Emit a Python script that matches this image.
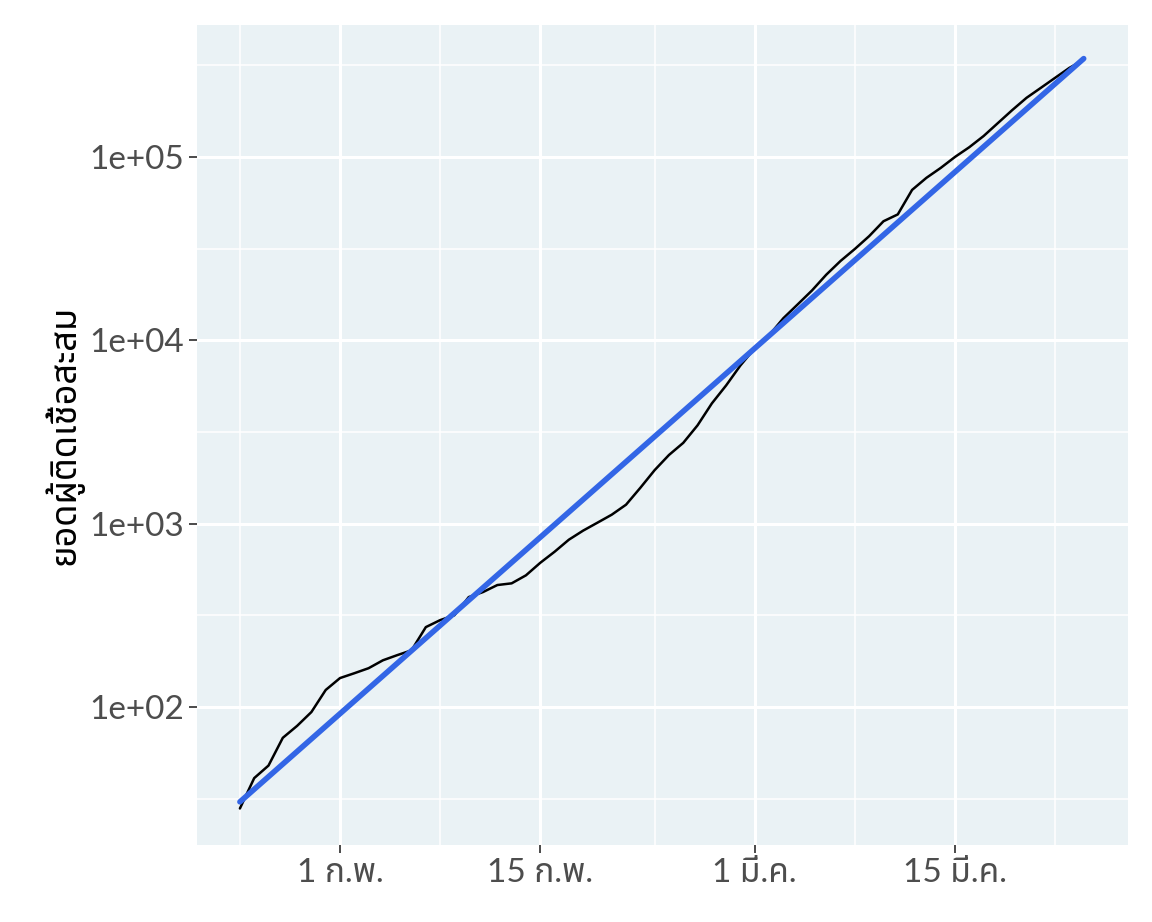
import numpy as np, pandas as pd, matplotlib
matplotlib.use("Agg")
import matplotlib.pyplot as plt, seaborn as sns
import matplotlib.dates as mdates
from matplotlib.ticker import FixedLocator, NullFormatter

dates = pd.date_range("2020-01-25", "2020-03-24", freq="D")
cases = [28,41,48,68,79,94,124,144,153,163,180,192,204,273,298,317,398,424,463,473,523,612,703,818,917,1013,1120,1270,1570,1960,2370,2760,3440,4530,5680,7300,9050,10650,13200,15700,18700,22800,27100,31500,37000,44600,48600,66100,76900,87100,100000,113000,130000,153000,180000,210000,238000,270000,306000,338000]
ylabel = "ยอดผู้ติดเชื้อสะสม"
xticks = ["2020-02-01","2020-02-15","2020-03-01","2020-03-15"]
xticklabels = ["1 ก.พ.","15 ก.พ.","1 มี.ค.","15 มี.ค."]

df = pd.DataFrame({"date": dates, "cases": cases})
t = (df.date - df.date.iloc[0]).dt.days.values
b, a = np.polyfit(t, np.log10(df.cases), 1)
df["fit"] = 10 ** (a + b * t)

sns.set_theme(style="darkgrid")
fam = ["Lato", "Noto Sans Thai", "DejaVu Sans"]
plt.rcParams["font.family"] = fam
fig = plt.figure(figsize=(11.52, 9.22), dpi=100)
ax = fig.add_axes([0.171, 0.0835, 0.808, 0.8895])
ax.set_facecolor("#EAF2F5")
sns.lineplot(data=df, x="date", y="cases", color="black", lw=1.8, ax=ax)
sns.lineplot(data=df, x="date", y="fit", color="#3366E6", lw=4, ax=ax)
ax.set_yscale("log")
ax.set_ylim(10**1.248, 10**5.72)
ax.set_xlim(pd.Timestamp("2020-01-22"), pd.Timestamp("2020-03-27 02:00"))
ax.yaxis.set_major_locator(FixedLocator([1e2, 1e3, 1e4, 1e5]))
ax.set_yticklabels(["1e+02", "1e+03", "1e+04", "1e+05"])
ax.yaxis.set_minor_locator(FixedLocator([10**k for k in [1.5, 2.5, 3.5, 4.5, 5.5]]))
ax.yaxis.set_minor_formatter(NullFormatter())
xt = pd.to_datetime(xticks)
ax.set_xticks(xt)
ax.set_xticklabels(xticklabels)
ax.xaxis.set_minor_locator(FixedLocator(mdates.date2num(pd.to_datetime(["2020-01-25","2020-02-08","2020-02-23","2020-03-08","2020-03-22"]))))
ax.grid(which="major", color="white", lw=2.2)
ax.grid(which="minor", color="white", lw=1.1)
ax.tick_params(which="major", length=6, color="#333333", labelsize=24, labelcolor="#4D4D4D", left=True, bottom=True)
ax.tick_params(which="minor", length=0)
for s in ax.spines.values(): s.set_visible(False)
ax.set_xlabel("")
ax.set_ylabel(ylabel, fontsize=26, fontweight="bold", color="black", family=["Noto Sans Thai", "DejaVu Sans"])
fig.savefig("out.png", facecolor="white")
